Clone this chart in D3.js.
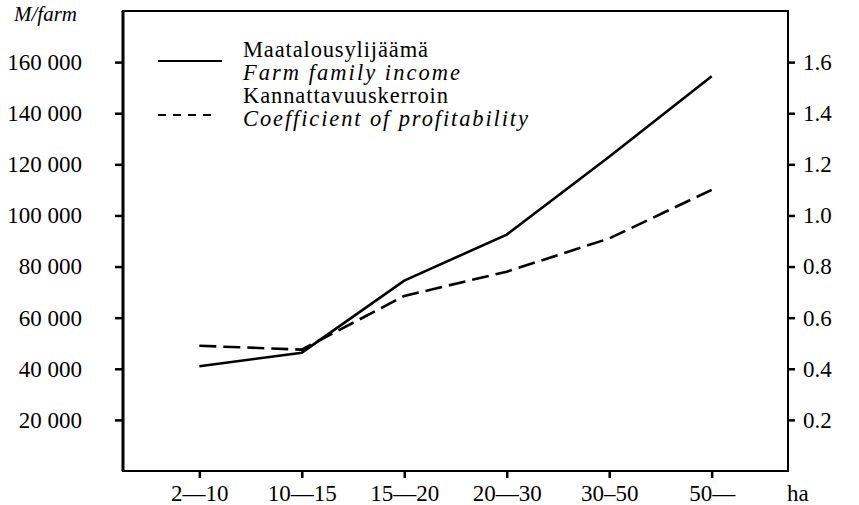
<!DOCTYPE html>
<html lang="fi">
<head>
<meta charset="utf-8">
<title>Maatalousylijäämä ja kannattavuuskerroin</title>
<script src="https://cdn.jsdelivr.net/npm/d3@7/dist/d3.min.js"></script>
<style>
  body { margin: 0; background: #fff; }
  svg text { font-family: "Liberation Serif", "DejaVu Serif", serif !important; fill: #000; }
  .axis text { font-size: 23px; }
  .axis line { stroke: #000; stroke-width: 2.5; }
</style>
</head>
<body>
<script>
// size classes (ha) and the two series
var sizeClasses = ["2\u201410", "10\u201415", "15\u201420", "20\u201430", "30\u201350", "50\u2014"];
var farmIncome = [41000, 46300, 74500, 92500, 123000, 154500];
var profitCoef = [0.49, 0.475, 0.685, 0.78, 0.91, 1.10];
var leftTicks = [20000, 40000, 60000, 80000, 100000, 120000, 140000, 160000];
var rightTicks = [0.2, 0.4, 0.6, 0.8, 1.0, 1.2, 1.4, 1.6];

var w = 859, h = 505;
var plotL = 123, plotR = 788, plotT = 11, plotB = 471;

var svg = d3.select("body").append("svg")
  .attr("width", w)
  .attr("height", h);

var x = d3.scalePoint()
  .domain(sizeClasses)
  .range([plotL, plotR])
  .padding(0.745);

var y = d3.scaleLinear().domain([0, 180000]).range([plotB, plotT]);
var y2 = d3.scaleLinear().domain([0, 1.8]).range([plotB, plotT]);

// frame
svg.append("path")
  .attr("d", "M" + plotL + "," + plotT + "H" + plotR + "V" + plotB + "H" + plotL + "Z")
  .attr("fill", "none")
  .attr("stroke", "#000")
  .attr("stroke-width", 2);
svg.append("line")
  .attr("x1", plotL).attr("x2", plotL)
  .attr("y1", plotT).attr("y2", plotB)
  .attr("stroke", "#000").attr("stroke-width", 3);

// left axis
var fmt = function(d) { return d3.format(",")(d).replace(",", " "); };
var gl = svg.append("g").attr("class", "axis")
  .attr("transform", "translate(" + plotL + ",0)")
  .call(d3.axisLeft(y).tickValues(leftTicks).tickFormat(fmt).tickSize(8).tickPadding(33));
gl.select(".domain").remove();

// right axis
var gr = svg.append("g").attr("class", "axis")
  .attr("transform", "translate(" + plotR + ",0)")
  .call(d3.axisRight(y2).tickValues(rightTicks).tickFormat(d3.format(".1f")).tickSize(7).tickPadding(8));
gr.select(".domain").remove();

// bottom axis
var gb = svg.append("g").attr("class", "axis")
  .attr("transform", "translate(0," + plotB + ")")
  .call(d3.axisBottom(x).tickSize(7).tickSizeOuter(0));
gb.select(".domain").remove();
gb.selectAll("text").attr("y", 30).attr("dy", 0);

svg.append("text")
  .attr("x", 787).attr("y", 501)
  .attr("font-size", 23)
  .text("ha");

svg.append("text")
  .attr("x", 77).attr("y", 21)
  .attr("text-anchor", "end")
  .attr("font-size", 21)
  .attr("font-style", "italic")
  .text("M/farm");

// lines
var incomeLine = d3.line()
  .x(function(d, i) { return x(sizeClasses[i]); })
  .y(function(d) { return y(d); });
var coefLine = d3.line()
  .x(function(d, i) { return x(sizeClasses[i]); })
  .y(function(d) { return y2(d); });

svg.append("path")
  .datum(farmIncome)
  .attr("d", incomeLine)
  .attr("fill", "none")
  .attr("stroke", "#000")
  .attr("stroke-width", 2.6);

svg.append("path")
  .datum(profitCoef)
  .attr("d", coefLine)
  .attr("fill", "none")
  .attr("stroke", "#000")
  .attr("stroke-width", 2.6)
  .attr("stroke-dasharray", "17,7");

// legend
svg.append("line")
  .attr("x1", 158).attr("x2", 222).attr("y1", 61).attr("y2", 61)
  .attr("stroke", "#000").attr("stroke-width", 2);
svg.append("line")
  .attr("x1", 158).attr("x2", 212).attr("y1", 115).attr("y2", 115)
  .attr("stroke", "#000").attr("stroke-width", 2)
  .attr("stroke-dasharray", "8,7");

var legendTexts = [
  { t: "Maatalousylijäämä", y: 57, it: false, len: 185 },
  { t: "Farm family income", y: 80, it: true, len: 217 },
  { t: "Kannattavuuskerroin", y: 103, it: false, len: 205 },
  { t: "Coefficient of profitability", y: 126, it: true, len: 285 }
];
svg.selectAll(".leg")
  .data(legendTexts)
  .enter()
  .append("text")
  .attr("class", "leg")
  .attr("x", 243)
  .attr("y", function(d) { return d.y; })
  .attr("font-size", 22.5)
  .attr("font-style", function(d) { return d.it ? "italic" : "normal"; })
  .attr("textLength", function(d) { return d.len; })
  .attr("lengthAdjust", "spacing")
  .text(function(d) { return d.t; });
</script>
</body>
</html>
